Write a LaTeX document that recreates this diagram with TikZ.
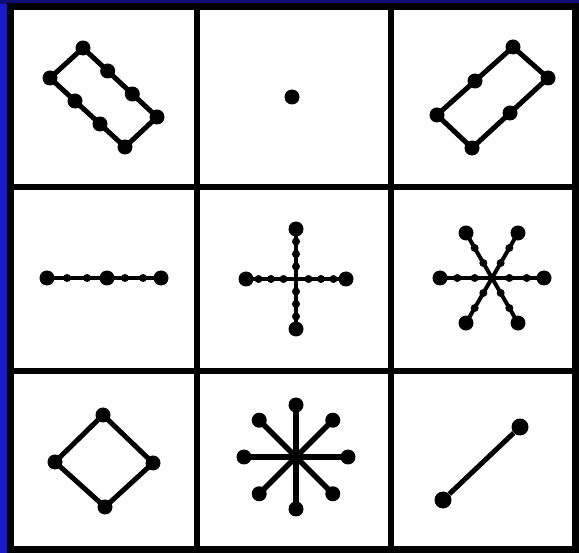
\documentclass[tikz,border=0pt]{standalone}
\usepackage{tikz}
\usetikzlibrary{calc}
\definecolor{frameB}{RGB}{26,26,200}
\definecolor{frameN}{RGB}{14,14,116}

\begin{document}
\begin{tikzpicture}[x=1pt,y=-1pt,
  dot/.style={circle,fill=black,inner sep=0pt,minimum size=15pt},
  tick/.style={circle,fill=black,inner sep=0pt,minimum size=8pt},
  edge/.style={line width=5pt,line join=round}]
\useasboundingbox (0,0) rectangle (579,553);
\fill[frameB] (0,0) rectangle (8,553);
\fill[frameN] (0,0) rectangle (579,4);
\fill[white] (10,7) rectangle (575,550);
% grid
\draw[line width=7pt] (10,7) rectangle (575.5,549.5);
\draw[line width=6pt] (197,7)--(197,550) (391,7)--(391,550) (10,187)--(576,187) (10,371)--(576,371);
% top row
\node[dot] (a1) at (83,48) {};
\node[dot] (a2) at (157,117) {};
\node[dot] (a3) at (125,147) {};
\node[dot] (a4) at (50,78) {};
\draw[edge] (a1.center)--(a2.center)--(a3.center)--(a4.center)--cycle;
\node[dot] (a5) at ($(a1)!1/3!(a2)$) {};
\node[dot] (a6) at ($(a1)!2/3!(a2)$) {};
\node[dot] (a7) at ($(a4)!1/3!(a3)$) {};
\node[dot] (a8) at ($(a4)!2/3!(a3)$) {};
\node[dot] (b1) at (292,97) {};
\node[dot] (c1) at (437,115) {};
\node[dot] (c2) at (513,47) {};
\node[dot] (c3) at (548,78) {};
\node[dot] (c4) at (472,148) {};
\draw[edge] (c1.center)--(c2.center)--(c3.center)--(c4.center)--cycle;
\node[dot] (c5) at ($(c1)!0.5!(c2)$) {};
\node[dot] (c6) at ($(c4)!0.5!(c3)$) {};
% middle row
\node[dot] (d1) at (47,278) {};
\node[dot] (d2) at (107,278) {};
\node[dot] (d3) at (161,278) {};
\draw[line width=3.5pt] (d1.center)--(d2.center)--(d3.center);
\foreach \t [count=\j] in {1/3,2/3} {
  \node[tick] (d1-\j) at ($(d1)!\t!(d2)$) {};
  \node[tick] (d2-\j) at ($(d2)!\t!(d3)$) {};
}
\coordinate (e0) at (296,279);
\foreach \a [count=\i] in {0,90,180,270} {
  \node[dot] (e\i) at ($(e0)+(\a:50)$) {};
  \draw[line width=4pt] (e0)--(e\i.center);
  \foreach \t [count=\j] in {0.25,0.5,0.75}
    \node[tick] (e\i-\j) at ($(e0)!\t!(e\i)$) {};
}
\coordinate (f0) at (492,278);
\foreach \a [count=\i] in {0,60,...,300} {
  \node[dot] (f\i) at ($(f0)+(\a:52)$) {};
  \draw[line width=4pt] (f0)--(f\i.center);
  \foreach \t [count=\j] in {1/3,2/3}
    \node[tick] (f\i-\j) at ($(f0)!\t!(f\i)$) {};
}
% bottom row
\node[dot] (g1) at (103,415) {};
\node[dot] (g2) at (153,463) {};
\node[dot] (g3) at (105,507) {};
\node[dot] (g4) at (55,462) {};
\draw[edge] (g1.center)--(g2.center)--(g3.center)--(g4.center)--cycle;
\node[dot,minimum size=10pt] (h0) at (296,457) {};
\foreach \a [count=\i] in {0,45,...,315} {
  \node[dot] (h\i) at ($(h0)+(\a:52)$) {};
  \draw[line width=5.5pt] (h0.center)--(h\i.center);
}
\node[dot,minimum size=17pt] (k1) at (443,500) {};
\node[dot,minimum size=17pt] (k2) at (520,427) {};
\draw[line width=5pt] (k1)--(k2);
\end{tikzpicture}
\end{document}
